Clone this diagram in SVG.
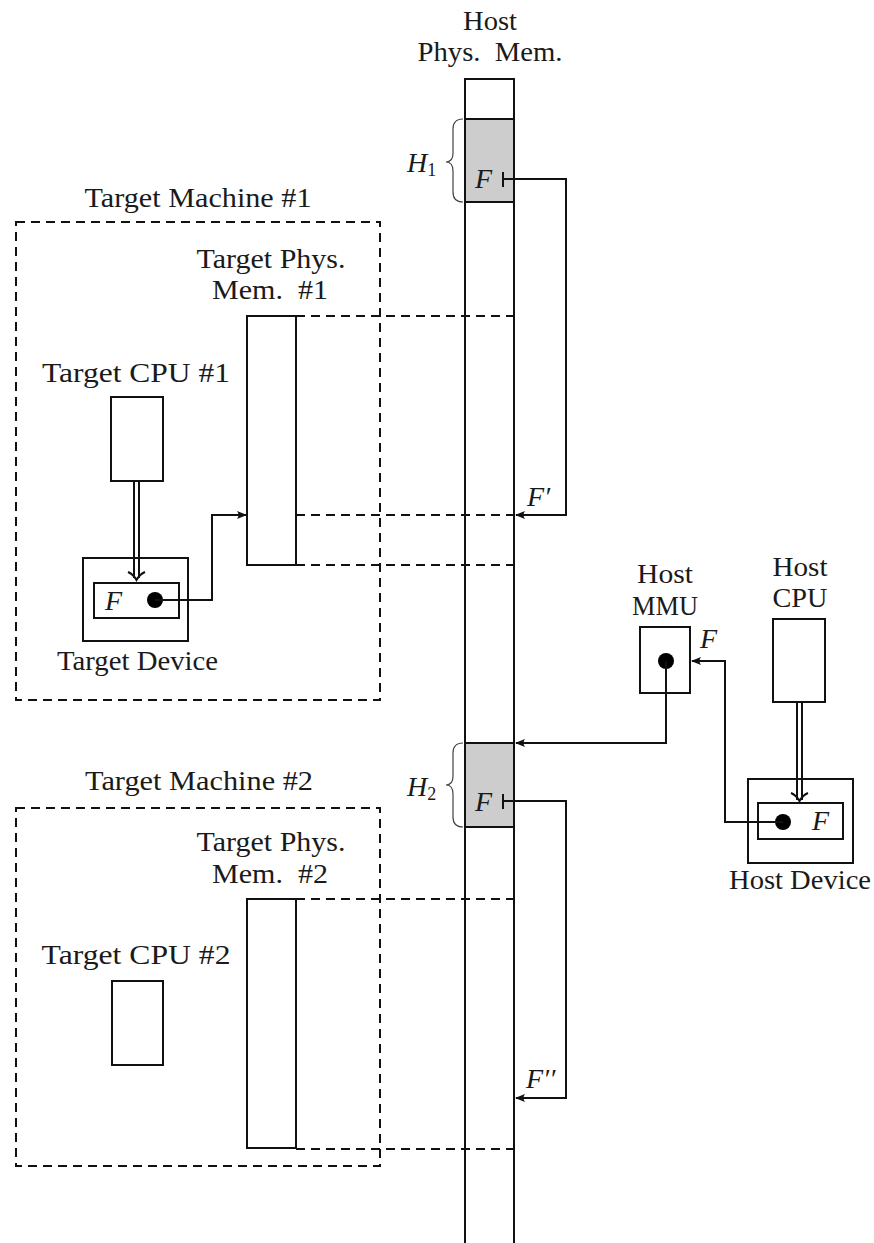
<svg xmlns="http://www.w3.org/2000/svg" width="874" height="1243" viewBox="0 0 874 1243">
<style>
.t{font-family:"Liberation Serif","DejaVu Serif",serif;font-size:28px;fill:#1a1a1a;text-anchor:middle}
.m{font-family:"Liberation Serif","DejaVu Serif",serif;font-style:italic;font-size:28px;fill:#1a1a1a}
.box{fill:#fff;stroke:#111;stroke-width:2}
.sh{fill:#cdcdcd;stroke:#111;stroke-width:2}
.dash{fill:none;stroke:#111;stroke-width:2;stroke-dasharray:9,6}
.ln{fill:none;stroke:#111;stroke-width:2}
.br{fill:none;stroke:#444;stroke-width:1.2}
</style>
<defs>
<marker id="ah" markerWidth="10" markerHeight="8" refX="9" refY="4" orient="auto" markerUnits="userSpaceOnUse">
<path d="M0,0 L10,4 L0,8 Q3,4 0,0 Z" fill="#111"/>
</marker>
</defs>

<g id="host-phys-mem">
<text class="t" x="490" y="30" textLength="54" lengthAdjust="spacingAndGlyphs">Host</text>
<text class="t" x="490" y="61" textLength="145" lengthAdjust="spacingAndGlyphs" xml:space="preserve">Phys.  Mem.</text>
<rect class="box" x="465" y="79" width="49" height="1180"/>
<rect class="sh" x="465" y="119" width="49" height="83"/>
<rect class="sh" x="465" y="743" width="49" height="84"/>
<path class="br" d="M463,119 Q453,119 453,129 L453,153 Q453,162 446,162 Q453,162 453,171 L453,192 Q453,202 463,202"/>
<path class="br" d="M463,743 Q453,743 453,753 L453,776 Q453,785 446,785 Q453,785 453,794 L453,817 Q453,827 463,827"/>
<text class="m" x="407" y="172">H<tspan font-size="18" dy="4" font-style="normal">1</tspan></text>
<text class="m" x="407" y="796">H<tspan font-size="18" dy="4" font-style="normal">2</tspan></text>
<text class="m" x="475" y="188">F</text>
<text class="m" x="475" y="811">F</text>
</g>

<g id="target-machine-1">
<rect class="dash" x="16" y="222" width="364" height="478"/>
<text class="t" x="198" y="207" textLength="227" lengthAdjust="spacingAndGlyphs">Target Machine #1</text>
</g>

<g id="target-phys-mem-1">
<text class="t" x="271" y="268" textLength="149" lengthAdjust="spacingAndGlyphs">Target Phys.</text>
<text class="t" x="270" y="299" textLength="116" lengthAdjust="spacingAndGlyphs" xml:space="preserve">Mem.  #1</text>
<rect class="box" x="247" y="316" width="49" height="249"/>
</g>

<g id="target-cpu-1">
<text class="t" x="136" y="382" textLength="188" lengthAdjust="spacingAndGlyphs">Target CPU #1</text>
<rect class="box" x="111" y="397" width="52" height="84"/>
</g>

<g id="target-device-1">
<rect class="box" x="83" y="558" width="105" height="83"/>
<rect class="box" x="94" y="583" width="85" height="35"/>
<text class="m" x="105" y="610">F</text>
<circle cx="155" cy="600" r="8" fill="#000"/>
<text class="t" x="137.5" y="670" textLength="161" lengthAdjust="spacingAndGlyphs">Target Device</text>
</g>

<g id="target-machine-2">
<rect class="dash" x="16" y="808" width="364" height="358"/>
<text class="t" x="199" y="790" textLength="228" lengthAdjust="spacingAndGlyphs">Target Machine #2</text>
</g>

<g id="target-phys-mem-2">
<text class="t" x="271" y="851" textLength="149" lengthAdjust="spacingAndGlyphs">Target Phys.</text>
<text class="t" x="270" y="883" textLength="116" lengthAdjust="spacingAndGlyphs" xml:space="preserve">Mem.  #2</text>
<rect class="box" x="247" y="899" width="49" height="249"/>
</g>

<g id="target-cpu-2">
<text class="t" x="136" y="964" textLength="189" lengthAdjust="spacingAndGlyphs">Target CPU #2</text>
<rect class="box" x="112" y="981" width="51" height="84"/>
</g>

<g id="host-mmu">
<text class="t" x="665" y="583" textLength="56" lengthAdjust="spacingAndGlyphs">Host</text>
<text class="t" x="665" y="615" textLength="66" lengthAdjust="spacingAndGlyphs">MMU</text>
<rect class="box" x="640" y="627" width="50" height="66"/>
<circle cx="666" cy="661" r="8" fill="#000"/>
</g>

<g id="host-cpu">
<text class="t" x="800" y="576" textLength="55" lengthAdjust="spacingAndGlyphs">Host</text>
<text class="t" x="800" y="607" textLength="55" lengthAdjust="spacingAndGlyphs">CPU</text>
<rect class="box" x="773" y="619" width="52" height="83"/>
</g>

<g id="host-device">
<rect class="box" x="748" y="779" width="105" height="84"/>
<rect class="box" x="758" y="803" width="85" height="36"/>
<circle cx="783" cy="822" r="8" fill="#000"/>
<text class="m" x="812" y="830">F</text>
<text class="t" x="800" y="889" textLength="142" lengthAdjust="spacingAndGlyphs">Host Device</text>
</g>

<g id="connectors">
<path class="dash" d="M296,316 H516 M296,515 H514 M296,565 H516 M296,899 H516 M296,1149 H516"/>
<path class="ln" d="M503,172 V187 M503,179 H566 V515 H516" marker-end="url(#ah)"/>
<text class="m" x="527" y="506">F′</text>
<path class="ln" d="M503,794 V809 M503,801 H566 V1098 H516" marker-end="url(#ah)"/>
<text class="m" x="526" y="1088">F′′</text>
<path class="ln" d="M155,600 H212 V515 H246" marker-end="url(#ah)"/>
<path class="ln" d="M134,481 V578 M139,481 V578"/>
<path class="ln" d="M128,572 Q133,574 136.5,580 Q140,574 145,572"/>
<path class="ln" d="M797,702 V800 M802,702 V800"/>
<path class="ln" d="M791,793 Q796,795 799.5,801 Q803,795 808,793"/>
<path class="ln" d="M666,661 V743 H516" marker-end="url(#ah)"/>
<path class="ln" d="M783,822 H725 V661 H692" marker-end="url(#ah)"/>
<text class="m" x="700" y="648">F</text>
</g>
</svg>
